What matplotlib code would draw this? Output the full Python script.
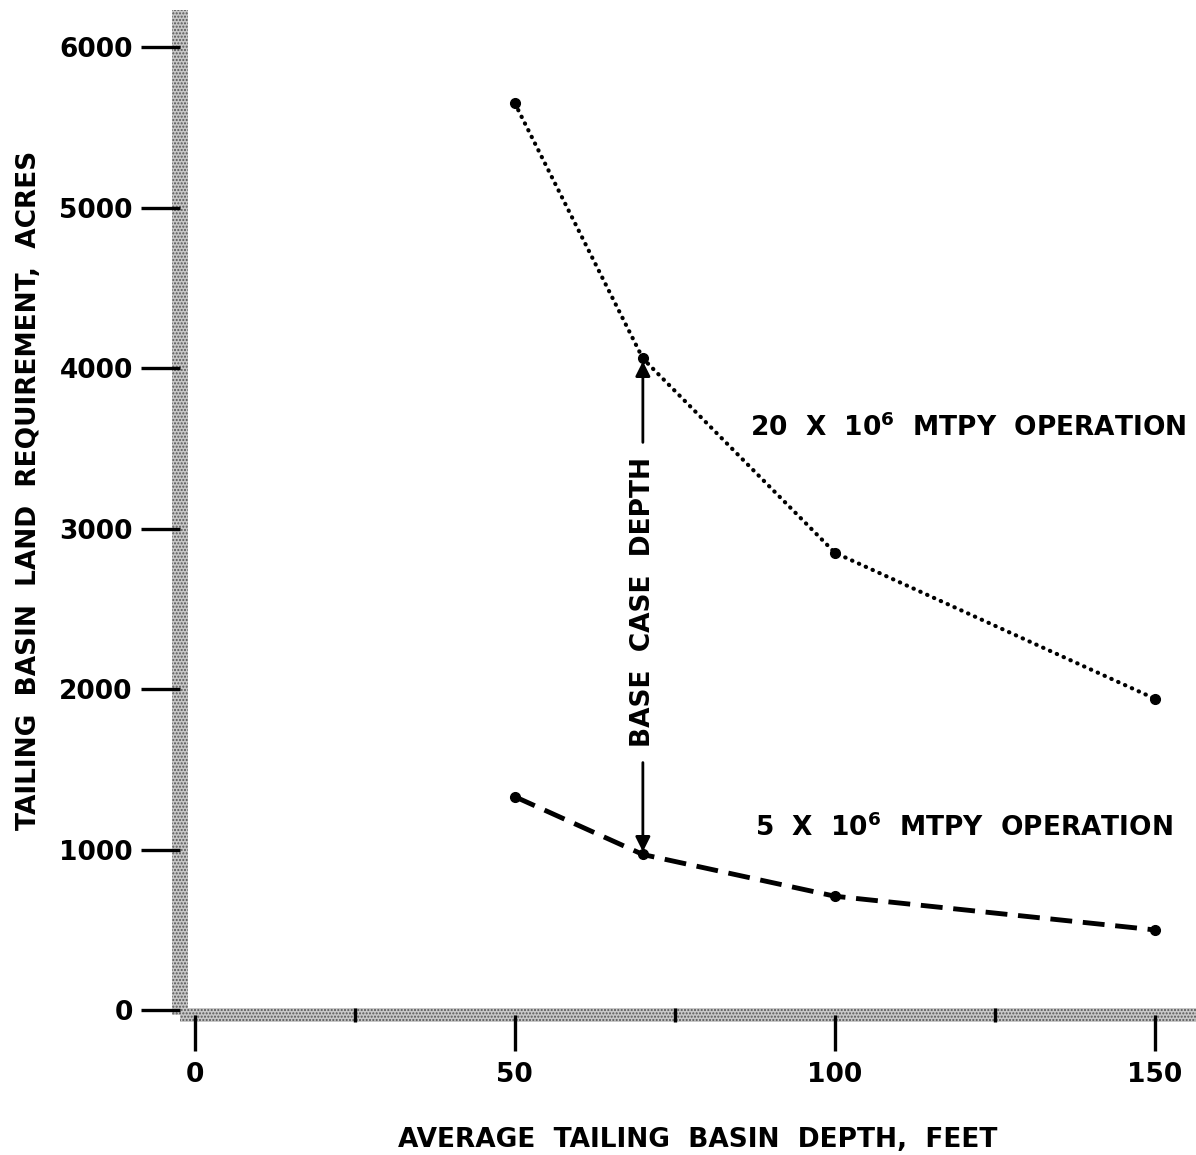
import numpy as np
import matplotlib.pyplot as plt
from matplotlib.patches import Rectangle

# data
depth = [50, 70, 100, 150]
acres_20 = [5650, 4060, 2850, 1940]
acres_5 = [1330, 970, 710, 500]
x_ticks = [0, 50, 100, 150]
x_minor = [25, 75, 125]
y_ticks = [0, 1000, 2000, 3000, 4000, 5000, 6000]
base_depth = 70

plt.rcParams['font.family'] = 'DejaVu Sans'
plt.rcParams['font.weight'] = 'bold'
plt.rcParams['axes.labelweight'] = 'bold'

fig = plt.figure(figsize=(11.96, 11.55), dpi=100)
ax = fig.add_axes([0.1505, 0.1212, 0.8495, 0.870])
ax.set_xlim(-2.3, 156.4)
ax.set_ylim(-30, 6230)

# stippled axis bands instead of spines
for side in ['top', 'right', 'left', 'bottom']:
    ax.spines[side].set_visible(False)
band_v = Rectangle((-0.0075, 0.0), 0.015, 1.0, transform=ax.transAxes, facecolor='#c8c8c8',
                   edgecolor='#555555', hatch='.....', lw=0, clip_on=False, zorder=1)
band_h = Rectangle((0.0, -0.007), 1.0, 0.014, transform=ax.transAxes, facecolor='#c8c8c8',
                   edgecolor='#555555', hatch='.....', lw=0, clip_on=False, zorder=1)
ax.add_patch(band_v)
ax.add_patch(band_h)

# curves
ax.plot(depth, acres_20, color='black', lw=3.0, ls=(0, (0.1, 1.7)), dash_capstyle='round', zorder=3)
ax.plot(depth, acres_5, color='black', lw=3.5, ls=(0, (4.5, 2.2)), zorder=3)
ax.plot(depth, acres_20, 'o', color='black', ms=7, zorder=4)
ax.plot(depth, acres_5, 'o', color='black', ms=7, zorder=4)

# ticks
ax.set_xticks(x_ticks)
ax.set_xticklabels([str(v) for v in x_ticks])
ax.set_xticks(x_minor, minor=True)
ax.set_yticks(y_ticks)
ax.set_yticklabels([str(v) for v in y_ticks])
ax.tick_params(axis='y', direction='out', length=28, width=2.4, pad=6, labelsize=19)
ax.tick_params(axis='x', which='major', direction='out', length=26, width=2.4, pad=8, labelsize=19)
ax.tick_params(axis='x', which='minor', direction='inout', length=10, width=2.4)

ax.set_xlabel('AVERAGE  TAILING  BASIN  DEPTH,  FEET', fontsize=19, fontweight='bold')
ax.set_ylabel('TAILING  BASIN  LAND  REQUIREMENT,  ACRES', fontsize=19, fontweight='bold')
ax.xaxis.set_label_coords(0.51, -0.111)
ax.yaxis.set_label_coords(-0.136, 0.522)

# curve labels
ax.text(86.7, 3626, r'20  X  10$^{\mathbf{6}}$  MTPY  OPERATION', fontsize=19, va='center', ha='left')
ax.text(87.5, 1134, r'5  X  10$^{\mathbf{6}}$  MTPY  OPERATION', fontsize=19, va='center', ha='left')

# base case depth marker
ax.text(base_depth, 2540, 'BASE  CASE  DEPTH', rotation=90, fontsize=19, ha='center', va='center')
ax.annotate('', xy=(base_depth, acres_20[1]), xytext=(base_depth, 3520),
            arrowprops=dict(arrowstyle='-|>', color='black', lw=2, mutation_scale=22))
ax.annotate('', xy=(base_depth, acres_5[1]), xytext=(base_depth, 1560),
            arrowprops=dict(arrowstyle='-|>', color='black', lw=2, mutation_scale=22))

fig.savefig('out.png', dpi=100)
